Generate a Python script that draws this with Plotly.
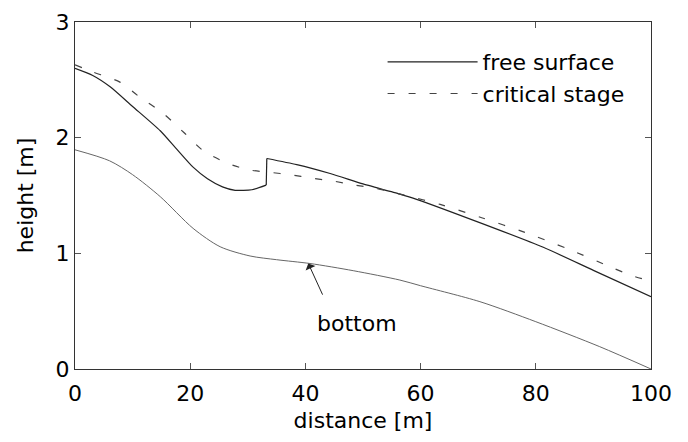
import plotly.graph_objects as go

# free surface
surf_x = [0, 3, 6.1, 10, 14.8, 17.5, 20.5, 23, 25.6, 27.8, 30.7, 33.2, 33.3, 38.5, 44.3, 50, 54.7, 56.4, 59.3, 70.6, 81.3, 90, 100]
surf_y = [2.60, 2.54, 2.44, 2.27, 2.06, 1.91, 1.745, 1.645, 1.575, 1.545, 1.55, 1.59, 1.82, 1.767, 1.69, 1.60, 1.535, 1.512, 1.467, 1.259, 1.052, 0.853, 0.625]
jump = 11  # index of the last point before the hydraulic jump

# critical stage
crit_x = [0, 3, 7.8, 11, 15.3, 19, 22.2, 26.4, 30.4, 33.9, 37.3, 41.1, 44.8, 48.6, 52.4, 57, 63.4, 70.6, 78.1, 85.5, 92.9, 96.5, 100]
crit_y = [2.63, 2.57, 2.48, 2.36, 2.21, 2.04, 1.89, 1.78, 1.72, 1.70, 1.68, 1.65, 1.625, 1.59, 1.56, 1.505, 1.423, 1.308, 1.181, 1.04, 0.884, 0.81, 0.76]

# bottom
bot_x = [0, 6, 10, 14.8, 20.5, 25.2, 30.4, 35, 40.8, 48.3, 56.4, 60, 70.3, 80, 91.1, 100]
bot_y = [1.895, 1.80, 1.68, 1.49, 1.216, 1.057, 0.977, 0.945, 0.912, 0.85, 0.769, 0.72, 0.582, 0.409, 0.193, 0.0]

x_ticks = [0, 20, 40, 60, 80, 100]
y_ticks = [0, 1, 2, 3]

FONT = "DejaVu Sans"
SURF = dict(color="#222222", width=1.2)

fig = go.Figure()
# free surface: smooth before the jump, the vertical jump, smooth after the jump
fig.add_trace(go.Scatter(x=surf_x[:jump + 1], y=surf_y[:jump + 1], mode="lines", name="free surface",
                         legendgroup="fs", line=dict(**SURF, shape="spline", smoothing=0.6)))
fig.add_trace(go.Scatter(x=surf_x[jump:jump + 2], y=surf_y[jump:jump + 2], mode="lines", name="free surface",
                         legendgroup="fs", showlegend=False, line=dict(**SURF)))
fig.add_trace(go.Scatter(x=surf_x[jump + 1:], y=surf_y[jump + 1:], mode="lines", name="free surface",
                         legendgroup="fs", showlegend=False, line=dict(**SURF, shape="spline", smoothing=0.6)))
fig.add_trace(go.Scatter(x=crit_x, y=crit_y, mode="lines", name="critical stage",
                         line=dict(color="#444444", width=1.2, dash="7px,14px", shape="spline", smoothing=0.8)))
fig.add_trace(go.Scatter(x=bot_x, y=bot_y, mode="lines", name="bottom", showlegend=False,
                         line=dict(color="#666666", width=1, shape="spline", smoothing=0.8)))

fig.add_annotation(x=40.5, y=0.913, ax=43.1, ay=0.63, axref="x", ayref="y", xref="x", yref="y",
                   text="", showarrow=True, arrowhead=1, arrowsize=1.8, arrowwidth=1, arrowcolor="#222222")
fig.add_annotation(x=49, y=0.39, xref="x", yref="y", text="bottom", showarrow=False,
                   font=dict(family=FONT, size=22, color="black"))

axis_common = dict(showline=True, linecolor="#333333", linewidth=1, mirror="ticks",
                   ticks="inside", ticklen=6, tickcolor="#555555", showgrid=False, zeroline=False,
                   tickfont=dict(family=FONT, size=22, color="black"))

fig.update_xaxes(range=[0, 100], tickvals=x_ticks, ticktext=[str(v) for v in x_ticks],
                 title=dict(text="distance [m]", font=dict(family=FONT, size=22, color="black"), standoff=7),
                 ticklabelstandoff=5, automargin=True, **axis_common)
fig.update_yaxes(range=[0, 3], tickvals=y_ticks, ticktext=[str(v) for v in y_ticks],
                 title=dict(text="height [m]", font=dict(family=FONT, size=22, color="black")),
                 ticklabelstandoff=0, automargin=False, **axis_common)

fig.update_layout(
    width=680, height=434,
    margin=dict(l=67, r=37, t=14, b=73),
    plot_bgcolor="white", paper_bgcolor="white",
    font=dict(family=FONT, size=22, color="black"),
    legend=dict(x=0.534, y=0.945, xanchor="left", yanchor="top", bgcolor="rgba(0,0,0,0)",
                borderwidth=0, itemwidth=90, font=dict(family=FONT, size=22, color="black"),
                tracegroupgap=0),
)

fig.write_html("out.html")
